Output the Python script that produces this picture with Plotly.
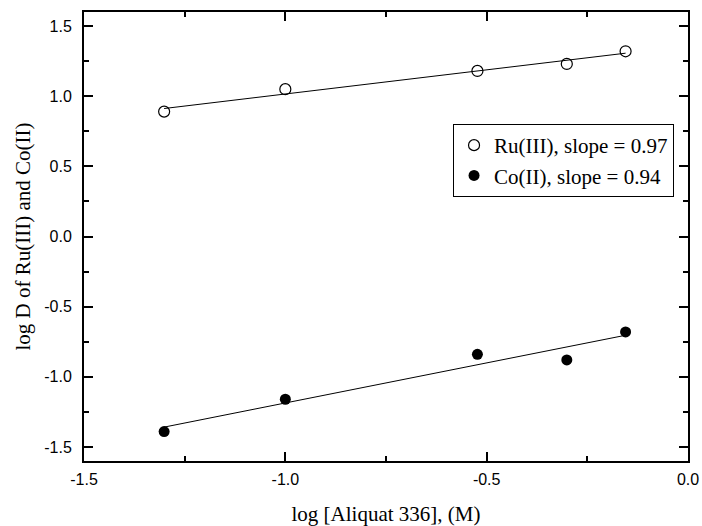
import numpy as np
import plotly.graph_objects as go

# Data
log_aliquat = [-1.301, -1.0, -0.523, -0.301, -0.155]
ru_logD = [0.89, 1.05, 1.18, 1.23, 1.32]
co_logD = [-1.39, -1.16, -0.84, -0.88, -0.68]
ru_label = "Ru(III), slope = 0.97"
co_label = "Co(II), slope = 0.94"
x_ticks = [-1.5, -1.0, -0.5, 0.0]
y_ticks = [-1.5, -1.0, -0.5, 0.0, 0.5, 1.0, 1.5]

serif = "Liberation Serif, Times New Roman, serif"
sans = "Liberation Sans, Arial, sans-serif"

def fit(xs, ys):
    xs = np.array(xs)
    m, b = np.polyfit(xs, np.array(ys), 1)
    xl = np.array([xs.min(), xs.max()])
    return xl, m * xl + b

fig = go.Figure()
for ys in (ru_logD, co_logD):
    fx, fy = fit(log_aliquat, ys)
    fig.add_trace(go.Scatter(x=fx, y=fy, mode="lines", line=dict(color="black", width=1),
                             showlegend=False, hoverinfo="skip"))

fig.add_trace(go.Scatter(x=log_aliquat, y=ru_logD, mode="markers", name=ru_label,
                         marker=dict(symbol="circle-open", size=11, color="black",
                                     line=dict(width=1.2, color="black"))))
fig.add_trace(go.Scatter(x=log_aliquat, y=co_logD, mode="markers", name=co_label,
                         marker=dict(symbol="circle", size=11, color="black")))

axis_common = dict(
    showline=True, linecolor="black", linewidth=2, mirror="ticks",
    ticks="inside", ticklen=9, tickwidth=1.5, tickcolor="black",
    showgrid=False, zeroline=False, automargin=False,
    tickfont=dict(family=sans, size=16, color="black"),
    minor=dict(ticks="inside", ticklen=5, tickwidth=1.5, tickcolor="black", dtick=0.25, showgrid=False),
)

fig.update_xaxes(range=[-1.5, 0.0], tickvals=x_ticks, ticktext=[f"{v:.1f}" for v in x_ticks],
                 ticklabelstandoff=3,
                 title=dict(text="log [Aliquat 336], (M)", font=dict(family=serif, size=21, color="black"), standoff=20),
                 **axis_common)
fig.update_yaxes(range=[-1.6, 1.6], tickvals=y_ticks, ticktext=[f"{v:.1f}" for v in y_ticks],
                 ticklabelstandoff=7,
                 title=dict(text="log D of Ru(III) and Co(II)", font=dict(family=serif, size=21, color="black"), standoff=8),
                 **axis_common)

fig.update_layout(
    width=702, height=526,
    margin=dict(l=84, r=14, t=12, b=65),
    plot_bgcolor="white", paper_bgcolor="white",
    legend=dict(x=0.611, y=0.7506, xanchor="left", yanchor="top",
                bordercolor="black", borderwidth=1, bgcolor="white",
                font=dict(family=serif, size=21, color="black"),
                itemwidth=30, tracegroupgap=0),
)

fig.write_html("out.html")
